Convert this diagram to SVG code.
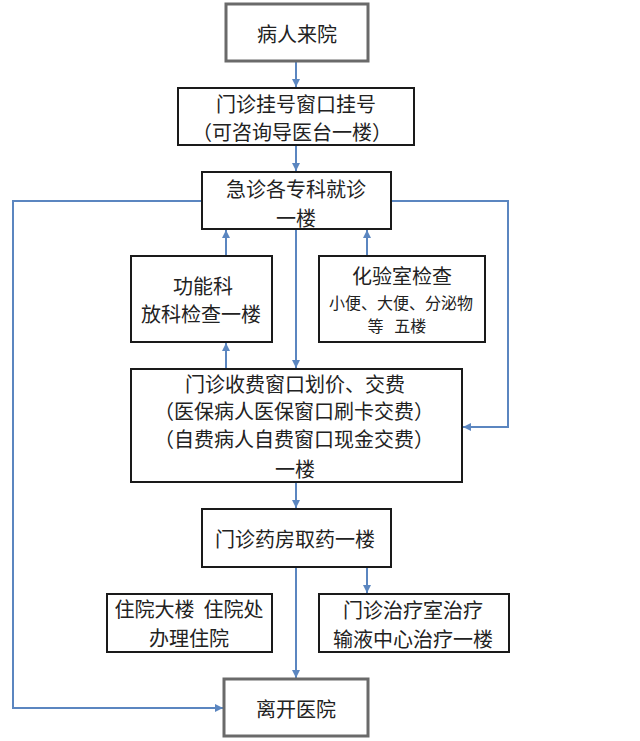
<svg xmlns="http://www.w3.org/2000/svg" width="640" height="741" viewBox="0 0 640 741">
<defs>
<style>
.box{fill:#fff;stroke:#1a1a1a;stroke-width:2}
.gbox{fill:#fff;stroke:#6a6a6a;stroke-width:3}
.t{font-family:"Noto Sans CJK SC","Noto Sans",sans-serif;font-size:20px;fill:#222;text-anchor:middle;dominant-baseline:central}
.s{font-size:16px}
.c{fill:none;stroke:#5b86c0;stroke-width:2}
</style>
<marker id="ah" markerUnits="userSpaceOnUse" markerWidth="10" markerHeight="10" viewBox="0 0 10 10" refX="9" refY="5" orient="auto">
<path d="M1,1 L9,5 L1,9 Z" fill="#5b86c0"/>
</marker>
</defs>
<rect width="640" height="741" fill="#fff"/>
<g id="connectors">
<path class="c" d="M296,61 V87" marker-end="url(#ah)"/>
<path class="c" d="M296,145 V171" marker-end="url(#ah)"/>
<path class="c" d="M296,229 V368" marker-end="url(#ah)"/>
<path class="c" d="M226,369 V343" marker-end="url(#ah)"/>
<path class="c" d="M226,256 V230" marker-end="url(#ah)"/>
<path class="c" d="M367,256 V230" marker-end="url(#ah)"/>
<path class="c" d="M391,201 H508 V427 H463" marker-end="url(#ah)"/>
<path class="c" d="M202,201 H13 V708 H223" marker-end="url(#ah)"/>
<path class="c" d="M296,482 V508" marker-end="url(#ah)"/>
<path class="c" d="M296,567 V678" marker-end="url(#ah)"/>
<path class="c" d="M367,567 V593" marker-end="url(#ah)"/>
</g>
<g id="n1"><rect class="gbox" x="226" y="4" width="142" height="57"/><text class="t" x="297" y="33">病人来院</text></g>
<g id="n2"><rect class="box" x="178" y="88" width="236" height="57"/><text class="t" x="296" y="103">门诊挂号窗口挂号</text><text class="t" x="292" y="131">（可咨询导医台一楼）</text></g>
<g id="n3"><rect class="box" x="202" y="172" width="189" height="57"/><text class="t" x="296" y="188">急诊各专科就诊</text><text class="t" x="296" y="217">一楼</text></g>
<g id="n4"><rect class="box" x="131" y="256" width="141" height="86"/><text class="t" x="203" y="285">功能科</text><text class="t" x="201" y="313">放科检查一楼</text></g>
<g id="n5"><rect class="box" x="319" y="256" width="166" height="86"/><text class="t" x="402" y="275">化验室检查</text><text class="t s" x="401" y="302">小便、大便、分泌物</text><text class="t s" x="397" y="325" xml:space="preserve">等   五楼</text></g>
<g id="n6"><rect class="box" x="131" y="369" width="331" height="113"/><text class="t" x="295" y="383">门诊收费窗口划价、交费</text><text class="t" x="294" y="410">（医保病人医保窗口刷卡交费）</text><text class="t" x="294" y="438">（自费病人自费窗口现金交费）</text><text class="t" x="295" y="468">一楼</text></g>
<g id="n7"><rect class="box" x="202" y="509" width="189" height="58"/><text class="t" x="295" y="538">门诊药房取药一楼</text></g>
<g id="n8"><rect class="box" x="107" y="594" width="165" height="58"/><text class="t" x="189" y="608" xml:space="preserve">住院大楼  住院处</text><text class="t" x="189" y="637">办理住院</text></g>
<g id="n9"><rect class="box" x="319" y="594" width="190" height="58"/><text class="t" x="413" y="609">门诊治疗室治疗</text><text class="t" x="413" y="638">输液中心治疗一楼</text></g>
<g id="n10"><rect class="gbox" x="224" y="679" width="144" height="57"/><text class="t" x="296" y="708">离开医院</text></g>
</svg>
